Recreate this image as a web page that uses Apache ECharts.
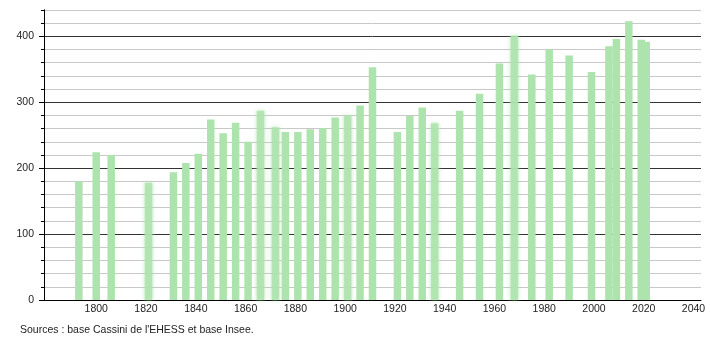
<!DOCTYPE html>
<html>
<head>
<meta charset="utf-8">
<script src="https://cdn.jsdelivr.net/npm/echarts@6/dist/echarts.min.js"></script>
<style>
html,body{margin:0;padding:0;background:#fff;}
#c{width:710px;height:340px;}
</style>
</head>
<body>
<div id="c"></div>
<script>
const years = [1793,1800,1806,1821,1831,1836,1841,1846,1851,1856,1861,1866,1872,1876,1881,1886,1891,1896,1901,1906,1911,1921,1926,1931,1936,1946,1954,1962,1968,1975,1982,1990,1999,2006,2009,2014,2019,2021];
const population = [180,224,220,178,194,208,222,274,253,269,240,287,262,255,255,259,261,277,280,295,353,255,279,292,268,287,313,359,401,342,380,371,346,385,396,423,395,392];
const blurredYears = [1821,1866,1872,1901,1936,1968];
const xTickLabels = [1800,1820,1840,1860,1880,1900,1920,1940,1960,1980,2000,2020,2040];
const yTickLabels = [0,100,200,300,400];
const sourceText = "Sources : base Cassini de l'EHESS et base Insee.";

const chart = echarts.init(document.getElementById('c'), null, {renderer:'canvas'});
const font = 'Liberation Sans, Arial, sans-serif';
const barColor = '#ade3ad';
chart.setOption({
  animation:false,
  backgroundColor:'#fff',
  grid:{left:44,right:9,top:10,bottom:40,containLabel:false},
  xAxis:{
    type:'value', min:1779, max:2043,
    axisLine:{show:true,lineStyle:{color:'#000',width:1}},
    axisTick:{show:false},
    splitLine:{show:false},
    axisLabel:{customValues:xTickLabels, formatter:v=>String(v), margin:4, color:'#222', fontSize:10.5, fontFamily:font}
  },
  yAxis:[{
    type:'value', min:0, max:440, interval:20,
    axisLine:{show:true,lineStyle:{color:'#000'}},
    axisTick:{show:true,length:3,lineStyle:{color:'#000'}},
    axisLabel:{show:false},
    splitLine:{show:true,lineStyle:{color:['#333','#c8c8c8','#c8c8c8','#c8c8c8','#c8c8c8'],width:1}}
  },{
    type:'value', min:0, max:440, position:'left',
    axisLine:{show:true,lineStyle:{color:'#000'}},
    axisTick:{show:true,length:5,customValues:yTickLabels,lineStyle:{color:'#000'}},
    axisLabel:{customValues:yTickLabels, formatter:v=>String(v), margin:10, color:'#222', fontSize:10.5, fontFamily:font},
    splitLine:{show:false}
  }],
  series:[{
    type:'bar',
    yAxisIndex:0,
    barWidth:7.5,
    itemStyle:{color:barColor},
    data: years.map((y,i)=>{
      const d = {value:[y,population[i]]};
      if (blurredYears.includes(y)) d.itemStyle = {color:'rgba(173,227,173,0.85)', shadowBlur:4, shadowColor:'rgba(173,227,173,0.9)'};
      return d;
    })
  }],
  graphic:[{
    type:'text', left:20, top:325,
    style:{text:sourceText, fill:'#222', font:'10.5px '+font}
  }]
});
</script>
</body>
</html>
